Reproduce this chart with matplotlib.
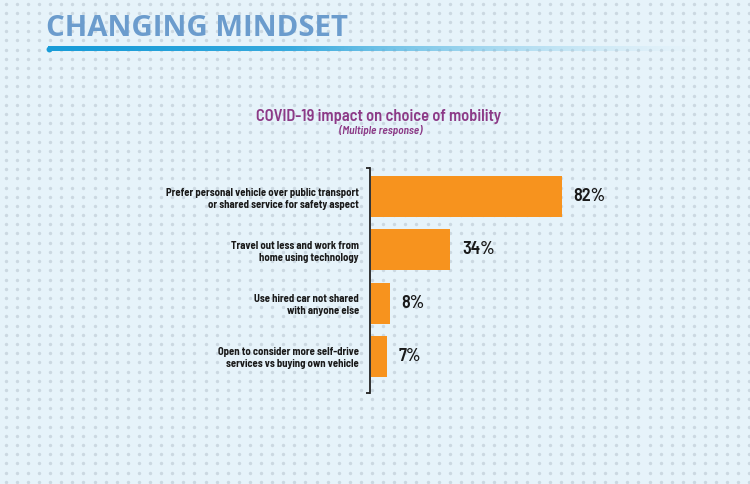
import numpy as np
import matplotlib
matplotlib.use("Agg")
import matplotlib.pyplot as plt

# data
categories = [
    "Prefer personal vehicle over public transport\nor shared service for safety aspect",
    "Travel out less and work from\nhome using technology",
    "Use hired car not shared\nwith anyone else",
    "Open to consider more self-drive\nservices vs buying own vehicle",
]
values = [82, 34, 8, 7]

title = "CHANGING MINDSET"
subtitle = "COVID-19 impact on choice of mobility"
note = "(Multiple response)"

FONT = ["Barlow Semi Condensed", "DejaVu Sans"]
TFONT = ["Open Sans", "DejaVu Sans"]
BG = "#e6f3fa"
ORANGE = "#f7931e"
PURPLE = "#8c3a87"

W, H = 750, 484
fig = plt.figure(figsize=(W / 100, H / 100), dpi=100, facecolor=BG)

# background layer in pixel coords
bg = fig.add_axes([0, 0, 1, 1])
bg.axis("off")
bg.set_facecolor(BG)

gx, gy = np.meshgrid(np.arange(5.7, W, 11.1), np.arange(3.5, H, 9.2))
bg.scatter(gx.ravel(), gy.ravel(), s=6, marker="o", color="#cbd8e1", lw=0, zorder=0)

# gradient underline
n = 400
grad = np.zeros((1, n, 4))
c0 = np.array([0x18, 0x9c, 0xd8]) / 255
c1 = np.array([0xa8, 0xdc, 0xf2]) / 255
t = np.linspace(0, 1, n)
grad[0, :, :3] = c0 + (c1 - c0) * t[:, None] ** 1.5
grad[0, :, 3] = np.clip(1.6 - 1.6 * t, 0, 1)
bg.imshow(grad, extent=[48, 700, 51, 46], aspect="auto", zorder=2, interpolation="bilinear")
bg.scatter([48.5], [48.5], s=18, color="#189cd8", lw=0, zorder=3)
bg.set_xlim(0, W)
bg.set_ylim(H, 0)

bg.text(46, 36, title, family=TFONT, fontsize=21.2, fontweight="bold",
        color="#6b9ccd", va="baseline", ha="left", zorder=3)
bg.text(379, 121.5, subtitle, family=FONT, fontsize=11.8, fontweight="semibold",
        color=PURPLE, va="baseline", ha="center", zorder=3)
bg.text(381, 134, note, family=FONT, fontsize=8.2, fontweight="semibold",
        fontstyle="italic", color=PURPLE, va="baseline", ha="center", zorder=3)

# bar chart
x0, x1, ytop, ybot = 370, 670, 168, 393
ax = fig.add_axes([x0 / W, (H - ybot) / H, (x1 - x0) / W, (ybot - ytop) / H])
ax.set_facecolor("none")
px_per_pct = 191 / 82
ax.set_xlim(0, (x1 - x0) / px_per_pct)
pitch = 53.3
ax.set_ylim(3 + 36.5 / pitch, -28.5 / pitch)

pos = np.arange(len(values))
ax.barh(pos, values, height=41 / pitch, color=ORANGE, left=0.4)

for p, v in zip(pos, values):
    ax.annotate(f"{v}%", (v + 0.4, p), xytext=(8.5, 0), textcoords="offset points",
                va="center", ha="left", family=FONT, fontsize=13,
                fontweight="semibold", color="#1a1a1a")

ax.set_yticks(pos)
ax.set_yticklabels(categories, family=FONT, fontsize=7.65, fontweight="bold",
                   color="#1a1a1a", linespacing=1.25)
ax.tick_params(axis="y", length=0, pad=8)
ax.set_xticks([])
for s in ["top", "right", "bottom"]:
    ax.spines[s].set_visible(False)
ax.spines["left"].set_color("#222222")
ax.spines["left"].set_linewidth(1.3)

# bracket ends
for yy in (0, 1):
    ax.plot([-4 / (x1 - x0), 0], [yy, yy], transform=ax.transAxes,
            color="#222222", lw=1.3, clip_on=False, solid_capstyle="butt")

fig.savefig("out.png", dpi=100, facecolor=BG)
